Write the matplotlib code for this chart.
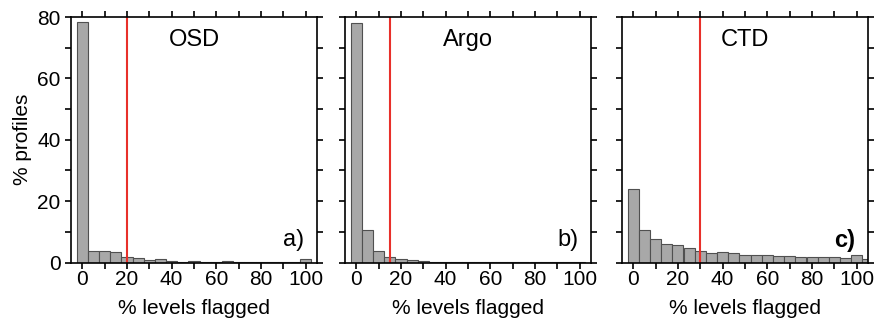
import matplotlib.pyplot as plt
from matplotlib.ticker import MultipleLocator

plt.rcParams['font.family'] = ['Liberation Sans Narrow', 'Liberation Sans', 'DejaVu Sans']

bins = [0, 5, 10, 15, 20, 25, 30, 35, 40, 45, 50, 55, 60, 65, 70, 75, 80, 85, 90, 95, 100, 105]
osd = [78.5, 3.6, 3.8, 3.4, 1.8, 1.4, 0.7, 1.1, 0.65, 0.2, 0.65, 0.2, 0.2, 0.4, 0.1, 0.2,
       0.05, 0.05, 0.05, 0.05, 1.0, 0.0]
argo = [78.0, 10.7, 3.7, 1.8, 1.1, 0.75, 0.45, 0.3, 0.2, 0.15, 0.1, 0.05, 0.1, 0.03, 0.03,
        0.03, 0.03, 0.03, 0.03, 0.03, 0.03, 0.0]
ctd = [23.8, 10.5, 7.7, 6.0, 5.65, 4.7, 3.7, 3.0, 3.3, 3.0, 2.5, 2.6, 2.4, 2.1, 2.1, 1.95,
       1.95, 1.85, 1.75, 1.6, 2.3, 1.3]

names = ["OSD", "Argo", "CTD"]
tags = ["a)", "b)", "c)"]
cutoff = [20, 15, 30]
series = [osd, argo, ctd]

fig = plt.figure(figsize=(8.74, 3.29), dpi=100)
lefts = [71 / 874, 345 / 874, 622 / 874]

for i in range(3):
    ax = fig.add_axes([lefts[i], 0.2021, 246 / 874, 0.7462])
    ax.bar(bins, series[i], width=5, color='#a8a8a8', edgecolor='#505050', linewidth=0.8)
    ax.axvline(cutoff[i], color='#e8302a', linewidth=1.5)
    ax.set_xlim(-5, 105)
    ax.set_ylim(0, 80)
    ax.xaxis.set_major_locator(MultipleLocator(20))
    ax.xaxis.set_minor_locator(MultipleLocator(10))
    ax.yaxis.set_major_locator(MultipleLocator(20))
    ax.yaxis.set_minor_locator(MultipleLocator(10))
    ax.tick_params(which='both', direction='out', top=True, right=True,
                   length=4, width=1.2, labelsize=15)
    ax.tick_params(axis='x', pad=1.5)
    for s in ax.spines.values():
        s.set_linewidth(1.2)
    if i > 0:
        ax.set_yticklabels([])
    else:
        ax.set_ylabel("% profiles", fontsize=15)
    ax.set_xlabel("% levels flagged", fontsize=15, labelpad=7)
    ax.text(0.5, 0.905, names[i], transform=ax.transAxes, ha='center', va='center', fontsize=17)
    ax.text(0.905, 0.09, tags[i], transform=ax.transAxes, ha='center', va='center', fontsize=17,
            fontweight='bold' if i == 2 else 'normal')

fig.savefig("out.png", dpi=100)
